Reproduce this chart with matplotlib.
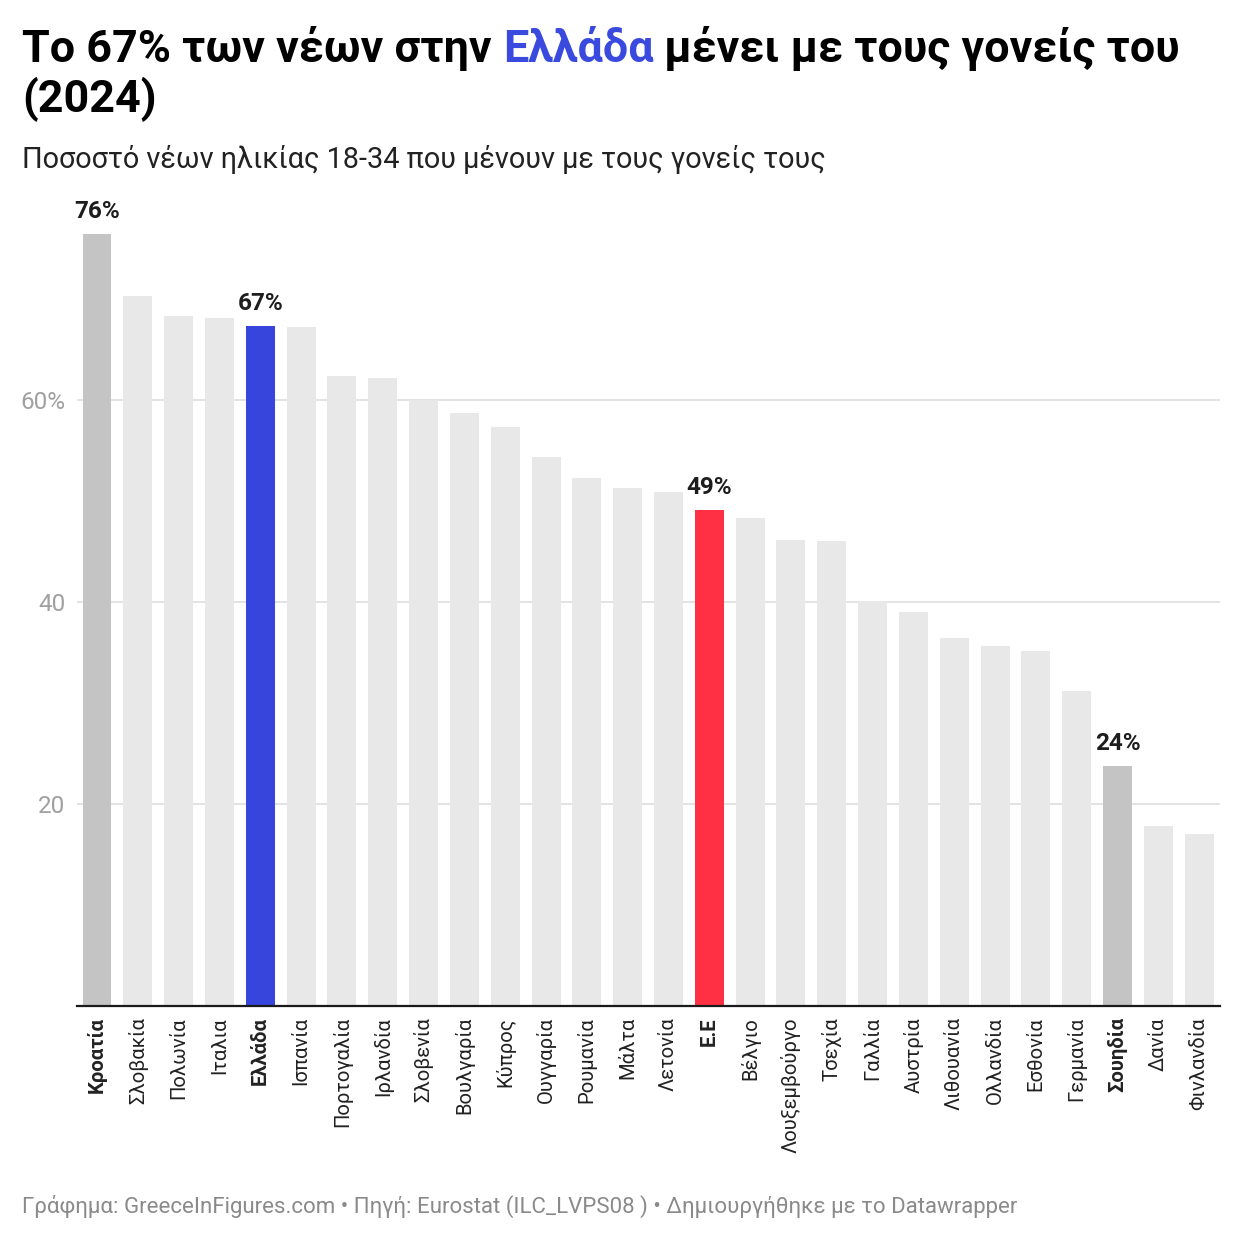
import numpy as np
import matplotlib
matplotlib.use('Agg')
import matplotlib.pyplot as plt

plt.rcParams['font.family'] = ['Roboto', 'DejaVu Sans']

# δεδομένα (ανάγνωση από το γράφημα)
countries = ['Κροατία', 'Σλοβακία', 'Πολωνία', 'Ιταλια', 'Ελλάδα', 'Ισπανία',
             'Πορτογαλία', 'Ιρλανδία', 'Σλοβενία', 'Βουλγαρία', 'Κύπρος',
             'Ουγγαρία', 'Ρουμανία', 'Μάλτα', 'Λετονία', 'Ε.Ε', 'Βέλγιο',
             'Λουξεμβούργο', 'Τσεχία', 'Γαλλία', 'Αυστρία', 'Λιθουανία',
             'Ολλανδία', 'Εσθονία', 'Γερμανία', 'Σουηδία', 'Δανία', 'Φινλανδία']
values = [76.4, 70.3, 68.3, 68.1, 67.3, 67.2, 62.4, 62.2, 60.0, 58.7, 57.3,
          54.4, 52.3, 51.3, 50.9, 49.1, 48.3, 46.1, 46.0, 40.1, 39.0, 36.4,
          35.6, 35.1, 31.2, 23.8, 17.8, 17.0]
highlight = {'Κροατία': '#c4c4c4', 'Ελλάδα': '#3845dc',
             'Ε.Ε': '#ff3043', 'Σουηδία': '#c4c4c4'}
labeled = ['Κροατία', 'Ελλάδα', 'Ε.Ε', 'Σουηδία']
yticks = [20, 40, 60]
ytick_labels = ['20', '40', '60%']

fig = plt.figure(figsize=(12.4, 12.4), dpi=100)
ax = fig.add_axes([77/1240, 1 - 1006/1240, (1220-77)/1240, 808/1240])

x = np.arange(len(countries))
colors = [highlight.get(c, '#e8e8e8') for c in countries]
ax.bar(x, values, width=0.71, color=colors, zorder=2)

for i, c in enumerate(countries):
    if c in labeled:
        ax.text(i, values[i] + 1.1, f'{round(values[i])}%', ha='center', va='bottom',
                fontsize=17.5, fontweight='bold', color='#1d1d1d')

ax.set_xlim(-0.49, len(countries) - 0.49)
ax.set_ylim(0, 80)
ax.set_yticks(yticks)
ax.set_yticklabels(ytick_labels, fontsize=17.5, color='#a0a0a0')
ax.yaxis.grid(True, color='#e3e3e3', linewidth=1.4, zorder=0)
ax.set_axisbelow(True)
ax.tick_params(axis='y', length=0, pad=8.5)
ax.tick_params(axis='x', length=0, pad=8)
ax.set_xticks(x)
ax.set_xticklabels(countries, rotation=90, fontsize=14.6, color='#222222',
                   ha='center', va='top')
for lbl in ax.get_xticklabels():
    if lbl.get_text() in labeled:
        lbl.set_fontweight('bold')
for s in ['top', 'right', 'left']:
    ax.spines[s].set_visible(False)
ax.spines['bottom'].set_color('#1a1a1a')
ax.spines['bottom'].set_linewidth(1.6)
ax.spines['bottom'].set_zorder(3)

# τίτλος με χρωματιστή λέξη
renderer = fig.canvas.get_renderer()
parts = [('Το 67% των νέων στην ', '#000000'), ('Ελλάδα', '#3a4ade'),
         (' μένει με τους γονείς του', '#000000')]
xpos = 22
for txt, col in parts:
    t = fig.text(xpos / 1240, 1 - 62 / 1240, txt, fontsize=32.3, fontweight='bold',
                 color=col, ha='left', va='baseline')
    bb = t.get_window_extent(renderer)
    xpos += bb.width
fig.text(22 / 1240, 1 - 112 / 1240, '(2024)', fontsize=32.3, fontweight='bold',
         color='#000000', ha='left', va='baseline')

fig.text(22 / 1240, 1 - 168 / 1240,
         'Ποσοστό νέων ηλικίας 18-34 που μένουν με τους γονείς τους',
         fontsize=20.8, color='#222222', ha='left', va='baseline')

fig.text(22 / 1240, 1 - 1213 / 1240,
         'Γράφημα: GreeceInFigures.com • Πηγή: Eurostat (ILC_LVPS08 ) • Δημιουργήθηκε με το Datawrapper',
         fontsize=16, color='#8a8a8a', ha='left', va='baseline')

fig.savefig('out.png', dpi=100, facecolor='white')
